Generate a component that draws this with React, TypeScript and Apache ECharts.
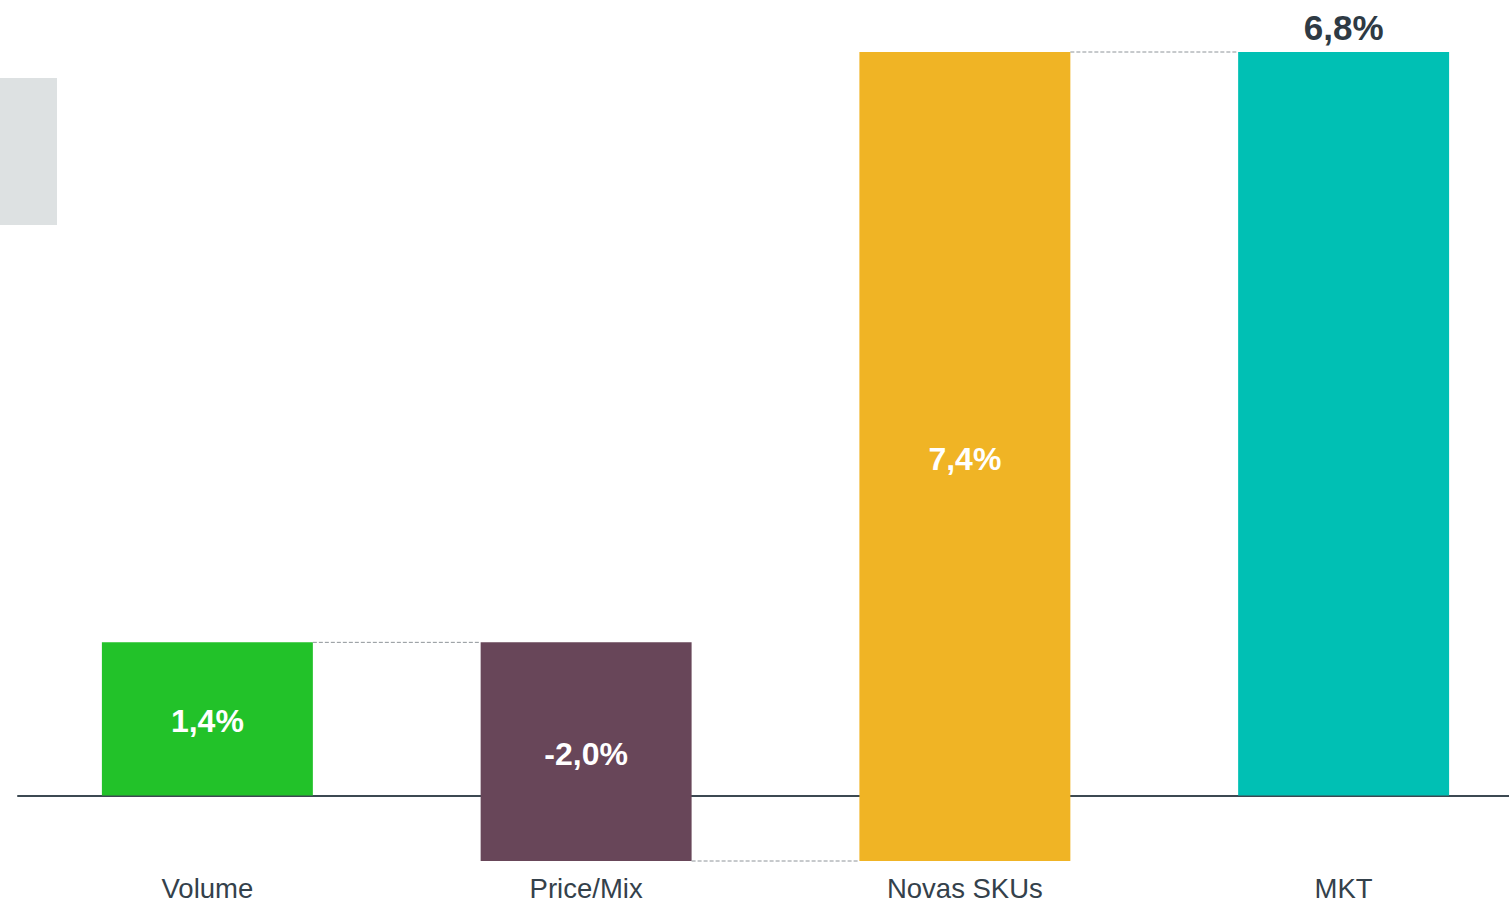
import React, { useEffect, useRef } from "react";
import * as echarts from "echarts";

const categories = ["Volume", "Price/Mix", "Novas SKUs", "MKT"];
const deltas = [1.4, -2.0, 7.4, 6.8];
const isTotal = [false, false, false, true];
const barColors = ["#22C229", "#684659", "#F0B425", "#00C0B4"];

const FONT = "'Liberation Sans', Arial, Helvetica, sans-serif";

function fmt(v: number) {
  return v.toFixed(1).replace(".", ",") + "%";
}

export default function App() {
  const ref = useRef<HTMLDivElement>(null);
  useEffect(() => {
    if (!ref.current) return;
    const chart = echarts.init(ref.current, null, { renderer: "svg" });

    // build waterfall ranges
    const rows: any[] = [];
    let run = 0;
    deltas.forEach((d, i) => {
      let start: number, end: number;
      if (isTotal[i]) {
        start = 0;
        end = d;
        run = d;
      } else {
        start = run;
        end = run + d;
        run = end;
      }
      rows.push([i, start, end, d]);
    });

    const widthRatio = 0.557;

    chart.setOption({
      animation: false,
      backgroundColor: "#ffffff",
      grid: {
        left: 18,
        width: 1515,
        top: 52,
        height: 809,
        containLabel: false,
        outerBoundsMode: "none",
      },
      xAxis: {
        type: "category",
        data: categories,
        axisLine: { onZero: true, lineStyle: { color: "#3C4952", width: 2 } },
        axisTick: { show: false },
        axisLabel: {
          margin: 14,
          fontSize: 27.5,
          lineHeight: 26,
          color: "#34414B",
          fontFamily: FONT,
        },
      },
      yAxis: {
        type: "value",
        min: -0.6,
        max: 6.8,
        show: false,
        splitLine: { show: false },
      },
      graphic: [
        {
          type: "rect",
          shape: { x: 0, y: 78, width: 57, height: 147 },
          style: { fill: "#DDE1E2" },
        },
      ],
      series: [
        {
          type: "custom",
          clip: false,
          encode: { x: 0, y: [1, 2] },
          data: rows,
          renderItem: (params: any, api: any) => {
            const idx = api.value(0);
            const start = api.value(1);
            const end = api.value(2);
            const d = api.value(3);
            const top = api.coord([idx, Math.max(start, end)]);
            const bot = api.coord([idx, Math.min(start, end)]);
            const bandW = api.size([1, 0])[0];
            const w = bandW * widthRatio;
            const x = top[0] - w / 2;
            const children: any[] = [
              {
                type: "rect",
                shape: { x, y: top[1], width: w, height: bot[1] - top[1] },
                style: { fill: barColors[idx] },
              },
            ];
            if (isTotal[idx]) {
              children.push({
                type: "text",
                x: top[0],
                y: top[1] - 7,
                style: {
                  text: fmt(d),
                  align: "center",
                  verticalAlign: "bottom",
                  fill: "#2E3A44",
                  fontSize: 35,
                  fontWeight: "bold",
                  fontFamily: FONT,
                },
              });
            } else {
              children.push({
                type: "text",
                x: top[0],
                y: (top[1] + bot[1]) / 2 + 2,
                style: {
                  text: fmt(d),
                  align: "center",
                  verticalAlign: "middle",
                  fill: "#FFFFFF",
                  fontSize: 32,
                  fontWeight: "bold",
                  fontFamily: FONT,
                },
              });
            }
            if (idx < rows.length - 1) {
              const yEnd = api.coord([idx, end])[1];
              children.push({
                type: "line",
                shape: {
                  x1: x + w,
                  y1: yEnd,
                  x2: top[0] + bandW - w / 2,
                  y2: yEnd,
                },
                style: { stroke: "#8E9499", lineWidth: 1, lineDash: [4, 2] },
              });
            }
            return { type: "group", children };
          },
        },
      ],
    });
    return () => chart.dispose();
  }, []);

  return (
    <div
      ref={ref}
      style={{ position: "absolute", left: 0, top: 0, width: 1509, height: 902 }}
    />
  );
}
